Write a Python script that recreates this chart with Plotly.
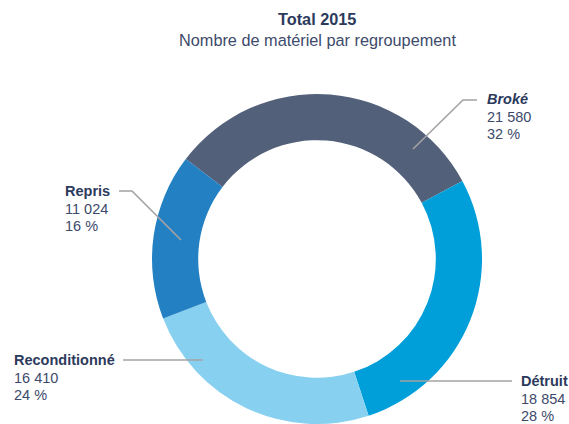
import plotly.graph_objects as go

# Equipment counts by grouping, 2015
categories = ["Broké", "Détruit", "Reconditionné", "Repris"]
values = [21580, 18854, 16410, 11024]
value_labels = ["21 580", "18 854", "16 410", "11 024"]
pct_labels = ["32 %", "28 %", "24 %", "16 %"]
colors = ["#52607a", "#009fda", "#88d0f0", "#2381c3"]

W, H = 569, 424
NAVY = "#2c3a5c"
TEXT = "#3d4a6b"
LEADER = "#a3a3a3"
FONT = "Liberation Sans, Arial, sans-serif"

# ring centre / radius in pixels
cx, cy, R = 317, 259, 165


def px(x):
    return x / W


def py(y):
    return 1 - y / H


fig = go.Figure(
    go.Pie(
        labels=categories,
        values=values,
        marker=dict(colors=colors, line=dict(width=0)),
        hole=0.72,
        sort=False,
        direction="clockwise",
        rotation=-52.7,
        textinfo="none",
        hoverinfo="label+value+percent",
        domain=dict(x=[px(cx - R), px(cx + R)], y=[py(cy + R), py(cy - R)]),
        showlegend=False,
    )
)

# label blocks: (left x, y of first line, name style)
label_pos = {
    "Broké": (485, 99, "bi"),
    "Détruit": (519, 381, "b"),
    "Reconditionné": (12, 360, "b"),
    "Repris": (63, 191, "b"),
}
# leader polylines (pixel points)
leaders = {
    "Broké": [(413, 149), (463, 100), (477, 100)],
    "Détruit": [(400, 381), (512, 381)],
    "Reconditionné": [(203, 360), (123, 360)],
    "Repris": [(181, 240), (132, 191), (119, 191)],
}

annotations = [
    dict(text="<b>Total 2015</b>", x=px(317), y=py(19), xref="paper", yref="paper",
         showarrow=False, xanchor="center", yanchor="middle",
         font=dict(family=FONT, size=16.3, color=NAVY)),
    dict(text="Nombre de matériel par regroupement", x=px(317), y=py(40),
         xref="paper", yref="paper", showarrow=False, xanchor="center",
         yanchor="middle", font=dict(family=FONT, size=16.3, color=TEXT)),
]

LINE = 17.5
for cat, val, pct in zip(categories, value_labels, pct_labels):
    x0, y0, style = label_pos[cat]
    name = f"<b><i>{cat}</i></b>" if style == "bi" else f"<b>{cat}</b>"
    for i, (t, col) in enumerate([(name, NAVY), (val, TEXT), (pct, TEXT)]):
        annotations.append(dict(
            text=t, x=px(x0), y=py(y0 + i * LINE), xref="paper", yref="paper",
            showarrow=False, xanchor="left", yanchor="middle",
            font=dict(family=FONT, size=14.5, color=col)))

shapes = []
for cat, pts in leaders.items():
    path = "M " + " L ".join(f"{px(x)},{py(y)}" for x, y in pts)
    shapes.append(dict(type="path", path=path, xref="paper", yref="paper",
                       line=dict(color=LEADER, width=1.6)))

fig.update_layout(
    width=W, height=H,
    margin=dict(l=0, r=0, t=0, b=0),
    paper_bgcolor="white", plot_bgcolor="white",
    annotations=annotations, shapes=shapes,
)

fig.write_html("out.html")
